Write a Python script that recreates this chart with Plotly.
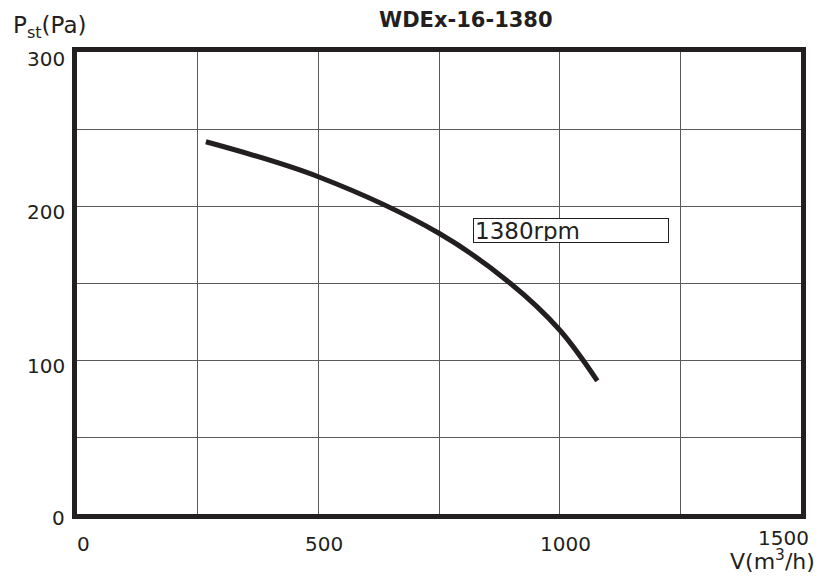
import plotly.graph_objects as go

# Data
flow = [267, 500, 750, 897, 1000, 1078]
pressure = [241.7, 219, 182.3, 150, 119.5, 86.5]

x_ticks = [0, 500, 1000, 1500]
y_ticks = [0, 100, 200, 300]
title_text = "WDEx-16-1380"
curve_label = "1380rpm"

FONT = "DejaVu Sans"
INK = "#231f20"

fig = go.Figure()
fig.add_trace(go.Scatter(
    x=flow, y=pressure, mode="lines",
    line=dict(color=INK, width=5, shape="spline", smoothing=1.0),
    hoverinfo="skip", showlegend=False,
))

fig.update_xaxes(
    range=[0, 1500], tickvals=list(range(0, 1501, 250)), showticklabels=False,
    showgrid=True, gridcolor="#5a5a5a", gridwidth=1, zeroline=False,
    showline=True, linecolor=INK, linewidth=5, mirror=True, ticks="",
)
fig.update_yaxes(
    range=[0, 300], tickvals=list(range(0, 301, 50)), showticklabels=False,
    showgrid=True, gridcolor="#5a5a5a", gridwidth=1, zeroline=False,
    showline=True, linecolor=INK, linewidth=5, mirror=True, ticks="",
)

ann = []
# x tick labels
for v in x_ticks:
    if v == 1500:
        ann.append(dict(x=v, y=0, xref="x", yref="y", text=str(v), showarrow=False,
                        xanchor="center", yanchor="top", xshift=-18, yshift=-10,
                        font=dict(family=FONT, size=20, color=INK)))
    else:
        ann.append(dict(x=v, y=0, xref="x", yref="y", text=str(v), showarrow=False,
                        xanchor="center", yanchor="top", xshift=6, yshift=-16,
                        font=dict(family=FONT, size=20, color=INK)))
# y tick labels
for v in y_ticks:
    if v == 0:
        ann.append(dict(x=0, y=v, xref="x", yref="y", text=str(v), showarrow=False,
                        xanchor="right", yanchor="middle", xshift=-10, yshift=-4,
                        font=dict(family=FONT, size=20, color=INK)))
    else:
        ann.append(dict(x=0, y=v, xref="x", yref="y", text=str(v), showarrow=False,
                        xanchor="right", yanchor="middle", xshift=-10, yshift=-6 if v != 300 else -7,
                        font=dict(family=FONT, size=20, color=INK)))

ann.append(dict(x=0.537, y=1, xref="paper", yref="paper", text="<b>" + title_text + "</b>",
                showarrow=False, xanchor="center", yanchor="bottom", yshift=18,
                font=dict(family=FONT, size=21, color=INK)))
ann.append(dict(x=0, y=1, xref="paper", yref="paper", text="P<sub>st</sub>(Pa)",
                showarrow=False, xanchor="left", yanchor="bottom", xshift=-66, yshift=8,
                font=dict(family=FONT, size=23, color=INK)))
ann.append(dict(x=1, y=0, xref="paper", yref="paper", text="V(m<sup>3</sup>/h)",
                showarrow=False, xanchor="right", yanchor="top", xshift=16, yshift=-30,
                font=dict(family=FONT, size=22, color=INK)))
ann.append(dict(x=1023, y=184, xref="x", yref="y", text=curve_label, showarrow=False,
                xanchor="center", yanchor="middle", width=192, height=21, align="left",
                bordercolor=INK, borderwidth=1, borderpad=1, bgcolor="white",
                font=dict(family=FONT, size=23, color=INK)))

# The page adds an 8px body margin, so the figure is offset by 8px
fig.update_layout(
    width=822, height=570,
    margin=dict(l=69, r=29, t=44, b=64),
    paper_bgcolor="white", plot_bgcolor="white",
    annotations=ann,
)

fig.write_html("out.html")
